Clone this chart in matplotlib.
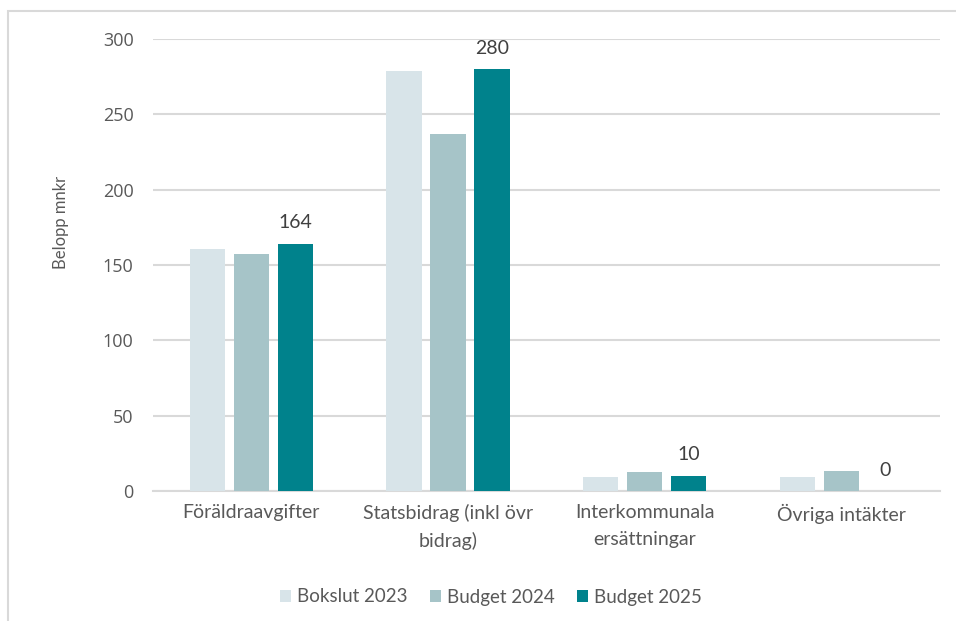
import numpy as np
import matplotlib.pyplot as plt
from matplotlib.patches import Rectangle

categories = ["Föräldraavgifter", "Statsbidrag (inkl övr\nbidrag)",
              "Interkommunala\nersättningar", "Övriga intäkter"]
series_names = ["Bokslut 2023", "Budget 2024", "Budget 2025"]
bokslut_2023 = [160.5, 278.5, 9, 9]
budget_2024 = [157, 237, 12.5, 13.5]
budget_2025 = [164, 280, 10, 0]
y_ticks = [0, 50, 100, 150, 200, 250, 300]
colors = ["#D8E4E9", "#A6C4C8", "#00828C"]

plt.rcParams['font.family'] = ['Lato', 'DejaVu Sans']

fig = plt.figure(figsize=(9.56, 6.21), dpi=100)
ax = fig.add_axes([0.160, 0.2093, 0.823, 0.7279])

# outer chart frame
fig.patches.append(Rectangle((8 / 956, -0.1), 1.1, 1.1 - 11 / 621,
                             transform=fig.transFigure, fill=False,
                             edgecolor="#D9D9D9", linewidth=1.5))

x = np.arange(len(categories))
width = 0.18
step = 0.224
data = [bokslut_2023, budget_2024, budget_2025]
for i, (vals, name, col) in enumerate(zip(data, series_names, colors)):
    bars = ax.bar(x + (i - 1) * step, vals, width, color=col, label=name, zorder=3)
    if i == 2:
        for b, v in zip(bars, vals):
            ax.annotate(f"{v:g}", (b.get_x() + b.get_width() / 2, v),
                        xytext=(0, 9), textcoords="offset points",
                        ha="center", va="bottom", fontsize=14, color="#404040")

ax.set_xlim(-0.5, len(categories) - 0.5)
ax.set_ylim(0, 300)
ax.set_yticks(y_ticks, labels=[str(t) for t in y_ticks],
              fontfamily="Open Sans", fontsize=13)
ax.yaxis.grid(True, color="#D9D9D9", linewidth=1.5, zorder=0)
ax.set_axisbelow(True)
for s in ["top", "right", "left"]:
    ax.spines[s].set_visible(False)
ax.spines["bottom"].set_color("#D9D9D9")
ax.spines["bottom"].set_linewidth(1.5)
ax.tick_params(axis="both", length=0, colors="#595959")
ax.tick_params(axis="y", pad=14)
ax.tick_params(axis="x", pad=9, labelsize=14)
ax.set_xticks(x)
ax.set_xticklabels(categories, linespacing=1.72)
ax.set_ylabel("Belopp mnkr", fontsize=12, color="#595959")
ax.yaxis.set_label_coords(-0.107, 0.595)

leg = fig.legend(loc="center", bbox_to_anchor=(491 / 956, 1 - 597 / 621), ncol=3,
                 frameon=False, fontsize=13.5, handlelength=0.6, handleheight=0.6,
                 handletextpad=0.3, columnspacing=1.2)
for t in leg.get_texts():
    t.set_color("#595959")

fig.savefig("out.png", dpi=100)
